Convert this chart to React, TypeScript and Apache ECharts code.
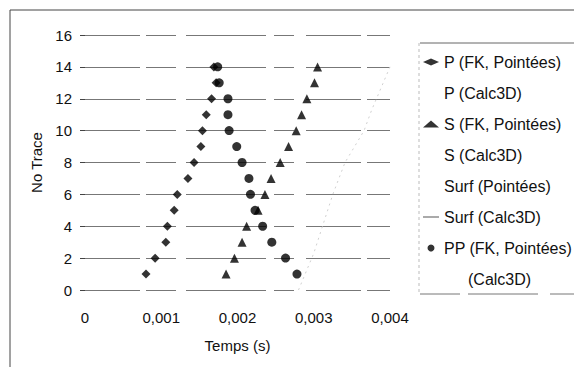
import React, { useEffect, useRef } from 'react';
import * as echarts from 'echarts';

// Trace numbers (y)
const traces = [1, 2, 3, 4, 5, 6, 7, 8, 9, 10, 11, 12, 13, 14];
// Picked arrival times (s)
const pFK = [0.0008, 0.00092, 0.00106, 0.00108, 0.00117, 0.00121, 0.00135, 0.00143, 0.00152, 0.00154, 0.00159, 0.00166, 0.00172, 0.00169];
const sFK = [0.00185, 0.00196, 0.00206, 0.00212, 0.00227, 0.00236, 0.00244, 0.00256, 0.00267, 0.00277, 0.00284, 0.00291, 0.00301, 0.00305];
const ppFK = [0.00278, 0.00263, 0.00245, 0.00233, 0.00223, 0.00217, 0.00215, 0.00206, 0.00199, 0.00189, 0.001875, 0.001875, 0.00176, 0.00174];
// Faint Surf (Calc3D) line
const surfCalcT = [0.0028, 0.003, 0.00325, 0.00341, 0.00366, 0.00376, 0.004];
const surfCalcTrace = [0, 2.3, 6, 8, 10, 11.3, 14];

const legendNames = [
  'P (FK, Pointées)',
  'P (Calc3D)',
  'S (FK, Pointées)',
  'S (Calc3D)',
  'Surf (Pointées)',
  'Surf (Calc3D)',
  'PP (FK, Pointées)',
  '(Calc3D)',
];

const FONT = "'Liberation Sans', Arial, Helvetica, sans-serif";

export default function App() {
  const ref = useRef<HTMLDivElement>(null);
  useEffect(() => {
    if (!ref.current) return;
    const chart = echarts.init(ref.current, null, { renderer: 'svg' });
    const pairs = (xs: number[]) => traces.map((t, i) => [xs[i], t]);
    const empty = (name: string) => ({
      name,
      type: 'line',
      data: [],
      symbol: 'none',
      itemStyle: { color: 'rgba(0,0,0,0)' },
      lineStyle: { color: 'rgba(0,0,0,0)' },
    });
    chart.setOption({
      animation: false,
      textStyle: { fontFamily: FONT },
      grid: { left: 85, right: 184, top: 35, bottom: 77 },
      xAxis: {
        type: 'value',
        min: 0,
        max: 0.004,
        interval: 0.001,
        name: 'Temps (s)',
        nameLocation: 'middle',
        nameGap: 48,
        nameTextStyle: { fontSize: 15, color: '#111', fontFamily: FONT },
        axisLine: { show: false },
        axisTick: { show: false },
        splitLine: { show: false },
        axisLabel: {
          fontSize: 15,
          color: '#111',
          margin: 20,
          fontFamily: FONT,
          formatter: (v: number) => (v === 0 ? '0' : v.toFixed(3).replace('.', ',')),
        },
      },
      yAxis: {
        type: 'value',
        min: 0,
        max: 16,
        interval: 2,
        name: 'No Trace',
        nameLocation: 'middle',
        nameGap: 40,
        nameTextStyle: { fontSize: 15, color: '#111', fontFamily: FONT },
        axisLine: { show: false },
        axisTick: { show: true, length: 5, lineStyle: { color: '#444' } },
        axisLabel: { fontSize: 15, color: '#111', margin: 13, fontFamily: FONT },
        splitLine: {
          show: true,
          lineStyle: { color: '#777', width: 1, type: [55, 6, 30, 10, 80, 8, 20, 12] },
        },
      },
      legend: {
        orient: 'vertical',
        left: 422,
        top: 54,
        padding: 0,
        itemWidth: 16,
        itemHeight: 7,
        itemGap: 15,
        selectedMode: false,
        textStyle: {
          fontSize: 16,
          color: '#111',
          fontFamily: FONT,
          rich: { p: { width: 24, fontSize: 16 } },
        },
        formatter: (name: string) => (name === '(Calc3D)' ? '{p|}' + name : name),
        data: legendNames.map((n) =>
          n === 'Surf (Calc3D)'
            ? { name: n, icon: 'path://M0,0 L16,0 L16,1 L0,1 Z', itemStyle: { color: '#555' } }
            : { name: n }
        ),
      },
      graphic: [
        {
          type: 'rect',
          shape: { x: 10, y: 10, width: 700, height: 500 },
          style: { fill: 'none', stroke: '#444', lineWidth: 1 },
          silent: true,
        },
        {
          type: 'line',
          shape: { x1: 420, y1: 43, x2: 574, y2: 43 },
          style: { stroke: '#666', lineWidth: 1 },
          silent: true,
        },
        {
          type: 'line',
          shape: { x1: 420, y1: 294, x2: 574, y2: 294 },
          style: { stroke: '#777', lineWidth: 1, lineDash: [40, 8, 70, 12] },
          silent: true,
        },
        {
          type: 'line',
          shape: { x1: 419, y1: 43, x2: 419, y2: 294 },
          style: { stroke: '#bbb', lineWidth: 1, lineDash: [3, 3] },
          silent: true,
        },
      ],
      series: [
        {
          name: 'P (FK, Pointées)',
          type: 'scatter',
          symbol: 'diamond',
          symbolSize: 9,
          itemStyle: { color: '#000' },
          data: pairs(pFK),
          z: 5,
        },
        empty('P (Calc3D)'),
        {
          name: 'S (FK, Pointées)',
          type: 'scatter',
          symbol: 'triangle',
          symbolSize: 9,
          itemStyle: { color: '#000' },
          data: pairs(sFK),
          z: 5,
        },
        empty('S (Calc3D)'),
        empty('Surf (Pointées)'),
        {
          name: 'Surf (Calc3D)',
          type: 'line',
          symbol: 'none',
          itemStyle: { color: '#555' },
          lineStyle: { color: '#d0d0d0', width: 1, type: [2, 4] },
          data: surfCalcT.map((t, i) => [t, surfCalcTrace[i]]),
          z: 3,
        },
        {
          name: 'PP (FK, Pointées)',
          type: 'scatter',
          symbol: 'circle',
          symbolSize: 9,
          itemStyle: { color: '#000' },
          data: pairs(ppFK),
          z: 5,
        },
        empty('(Calc3D)'),
      ],
    });
    return () => chart.dispose();
  }, []);
  return (
    <div
      ref={ref}
      style={{ position: 'fixed', left: 0, top: 0, width: 574, height: 367, background: '#fff' }}
    />
  );
}
